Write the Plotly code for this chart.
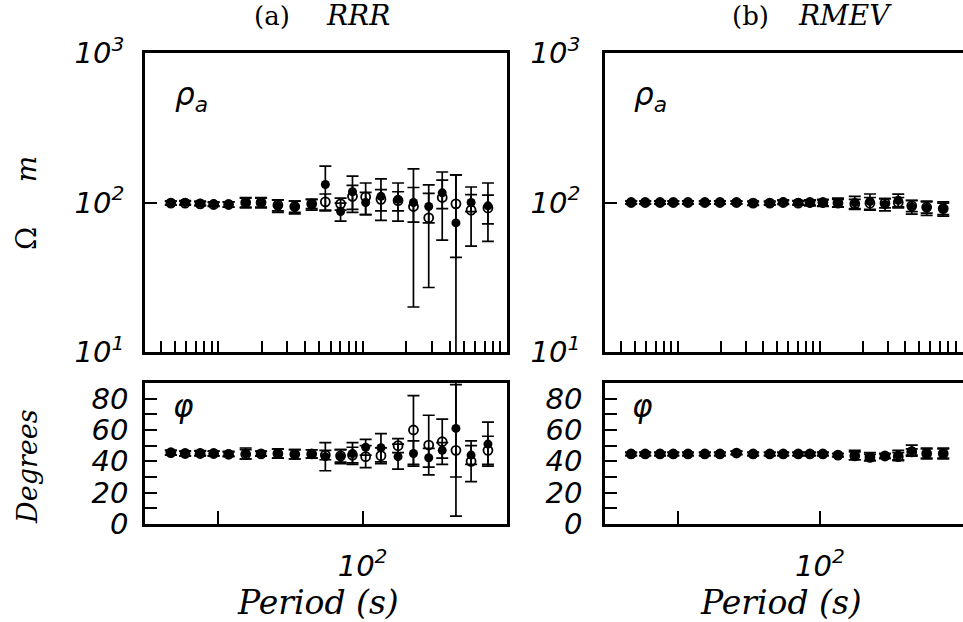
import plotly.graph_objects as go

W, H = 963, 622

# ---------------- data ----------------
PERIOD = [4.7, 5.9, 7.5, 9.3, 11.8, 15.5, 19.8, 25.9, 33.9, 44.4, 55.2,
          70.4, 85.1, 105, 134, 176, 225, 287, 356, 443, 564, 738]

# (a) RRR  apparent resistivity (ohm m)
RRR_RHO_FILLED = [99, 100, 99, 98, 97, 100, 100, 95, 93, 97, 132,
                  87, 118, 100, 110, 105, 100, 94, 116, 73, 100, 95]
RRR_RHO_FILLED_ERR = [3, 3, 3, 3, 4, 8, 8, 9, 9, 8, 43,
                      12, 32, 17, 34, 30, 26, 21, 25, 80, 13, 40]
RRR_RHO_OPEN = [99, 99, 98, 97, 97, 100, 100, 96, 94, 98, 101,
                98, 110, 109, 105, 103, 94, 79, 108, 98, 89, 92]
RRR_RHO_OPEN_ERR = [3, 3, 3, 3, 4, 7, 7, 8, 8, 7, 13,
                    9, 20, 26, 17, 15, 74, 52, 52, 55, 38, 20]

# (a) RRR  phase (degrees)
RRR_PHI_FILLED = [45.5, 45, 45.3, 45, 44.8, 45, 45, 45, 44.5, 44.7, 43,
                  43, 45, 49, 48.7, 43, 45, 42.3, 47, 61, 44, 51]
RRR_PHI_FILLED_ERR = [1.5, 1.5, 1.5, 1.5, 1.5, 3.5, 1.5, 3, 3, 2.7, 9,
                      4.5, 7, 5, 9, 8, 8, 6, 5, 31, 6, 14]
RRR_PHI_OPEN = [45.5, 45, 45, 45, 44.5, 44.5, 44.8, 45, 44.5, 44.7, 44,
                43.5, 44, 43, 43.6, 50, 60, 50.4, 52.5, 47, 40, 47]
RRR_PHI_OPEN_ERR = [1.5, 1.5, 1.5, 1.5, 1.5, 3, 1.5, 3, 3, 2.7, 3,
                    4, 5, 7, 5, 4.5, 22, 19, 14.5, 42, 13, 9]

# (b) RMEV apparent resistivity (ohm m)
RMEV_RHO_FILLED = [100, 100, 100, 100, 100, 100, 100, 100, 98.5, 99, 101,
                   100, 99, 99, 100, 100, 101.5, 97, 103.6, 93.5, 92, 91]
RMEV_RHO_FILLED_ERR = [2, 2, 2, 2, 2, 2, 2, 2, 3, 3, 3,
                       3, 4, 5, 7, 10, 12.5, 9, 10, 10, 10, 10]
RMEV_RHO_OPEN = [100, 100, 100, 100, 100, 100, 100, 100, 99, 99, 100,
                 99, 100, 100, 99, 98, 99, 99, 100, 95, 93, 91]
RMEV_RHO_OPEN_ERR = [2, 2, 2, 2, 2, 2, 2, 2, 3, 2, 3,
                     3, 4, 5, 6, 7, 9, 7, 8, 8, 8, 8]

# (b) RMEV phase (degrees)
RMEV_PHI_FILLED = [44.7, 44.7, 44.7, 44.7, 44.7, 44.7, 44.7, 45.5, 44.7, 44.7, 44.7,
                   44.7, 44.7, 44.7, 44, 44, 43, 43.4, 44, 46.8, 45, 45]
RMEV_PHI_FILLED_ERR = [1, 1, 1, 1, 1, 1, 1, 1, 1, 1, 1,
                       1, 1, 1, 1, 3, 2.5, 1.5, 3, 3.5, 3.5, 3.5]
RMEV_PHI_OPEN = [44.7, 44.7, 44.7, 44.7, 44.7, 44.7, 44.7, 45.3, 44.7, 44.7, 44.7,
                 44.7, 44.7, 44.7, 44, 43.5, 42.5, 43.4, 43, 46, 45, 45]
RMEV_PHI_OPEN_ERR = [1, 1, 1, 1, 1, 1, 1, 1, 1, 1, 1,
                     1, 1, 1, 1, 2.5, 2, 1.5, 2.5, 2, 3, 3]

RHO_TICKS = [10, 100, 1000]
RHO_TICKTEXT = ["10<sup>1</sup>", "10<sup>2</sup>", "10<sup>3</sup>"]
PHI_TICKS = [0, 20, 40, 60, 80]
PHI_TICKTEXT = ["0", "20", "40", "60", "80"]
PHI_MINOR_TICKS = [10, 30, 50, 70, 90]
PERIOD_MINOR_TICKS = [4, 5, 6, 7, 8, 9, 10, 20, 30, 40, 50, 60, 70, 80, 90,
                      100, 200, 300, 400, 500, 600, 700, 800, 900]
PERIOD_LABEL_TICKS = [100]
PERIOD_LABEL_TICKTEXT = ["10<sup>2</sup>"]
PERIOD_DECADE_TICKS = [10]

# ---------------- figure ----------------
def fx(p):
    return p / W


def fy(p):
    return 1 - p / H


fig = go.Figure()

panels = [
    ("x", "y", RRR_RHO_FILLED, RRR_RHO_FILLED_ERR, RRR_RHO_OPEN, RRR_RHO_OPEN_ERR),
    ("x2", "y2", RRR_PHI_FILLED, RRR_PHI_FILLED_ERR, RRR_PHI_OPEN, RRR_PHI_OPEN_ERR),
    ("x3", "y3", RMEV_RHO_FILLED, RMEV_RHO_FILLED_ERR, RMEV_RHO_OPEN, RMEV_RHO_OPEN_ERR),
    ("x4", "y4", RMEV_PHI_FILLED, RMEV_PHI_FILLED_ERR, RMEV_PHI_OPEN, RMEV_PHI_OPEN_ERR),
]

for xa, ya, yf, ef, yo, eo in panels:
    fig.add_trace(go.Scatter(
        x=PERIOD, y=yo, xaxis=xa, yaxis=ya, mode="markers",
        marker=dict(symbol="circle-open", size=9, color="black",
                    line=dict(width=1.8, color="black")),
        error_y=dict(type="data", array=eo, symmetric=True, color="black",
                     thickness=1.7, width=6),
        showlegend=False, hoverinfo="skip"))
    fig.add_trace(go.Scatter(
        x=PERIOD, y=yf, xaxis=xa, yaxis=ya, mode="markers",
        marker=dict(symbol="circle", size=9, color="black"),
        error_y=dict(type="data", array=ef, symmetric=True, color="black",
                     thickness=1.7, width=6),
        showlegend=False, hoverinfo="skip"))

tickfont = dict(family="DejaVu Sans", size=29, color="black", style="italic")

base = dict(showline=True, linecolor="black", linewidth=2.6, mirror=True,
            showgrid=False, zeroline=False, ticks="inside", tickcolor="black",
            tickwidth=1.5, automargin=False)

minor_base = dict(ticks="inside", tickcolor="black", tickwidth=1.5, showgrid=False)

LX = [fx(145), fx(507)]
RX = [fx(605), 1.0]
TOPY = [fy(352), fy(53)]
BOTY = [fy(524), fy(383)]


def xtop(domain, rng, anchor):
    return dict(base, type="log", domain=domain, range=rng, anchor=anchor,
                tickvals=[], showticklabels=False,
                minor=dict(minor_base, tickvals=PERIOD_MINOR_TICKS, ticklen=11))


def xbot(domain, rng, anchor):
    return dict(base, type="log", domain=domain, range=rng, anchor=anchor,
                tickvals=PERIOD_LABEL_TICKS, ticktext=PERIOD_LABEL_TICKTEXT,
                ticklen=13, tickfont=tickfont, ticklabelstandoff=14,
                minor=dict(minor_base, tickvals=PERIOD_DECADE_TICKS, ticklen=13))


def yrho(domain, anchor, standoff):
    return dict(base, type="log", domain=domain, range=[1, 3], anchor=anchor,
                tickvals=RHO_TICKS, ticktext=RHO_TICKTEXT, ticklen=12,
                tickfont=tickfont, ticklabelstandoff=standoff)


def yphi(domain, anchor, standoff):
    return dict(base, domain=domain, range=[0, 90], anchor=anchor,
                tickvals=PHI_TICKS, ticktext=PHI_TICKTEXT, ticklen=12,
                tickfont=tickfont, ticklabelstandoff=standoff,
                minor=dict(minor_base, tickvals=PHI_MINOR_TICKS, ticklen=12))


fig.update_layout(
    width=W, height=H, margin=dict(l=0, r=0, t=0, b=0, pad=0, autoexpand=False),
    paper_bgcolor="white", plot_bgcolor="white", showlegend=False,
    xaxis=xtop(LX, [0.493, 3.0], "y"),
    yaxis=yrho(TOPY, "x", 12),
    xaxis2=xbot(LX, [0.493, 3.0], "y2"),
    yaxis2=yphi(BOTY, "x2", 8),
    xaxis3=xtop(RX, [0.488, 3.007], "y3"),
    yaxis3=yrho(TOPY, "x3", 16),
    xaxis4=xbot(RX, [0.488, 3.007], "y4"),
    yaxis4=yphi(BOTY, "x4", 14),
)

serif_it = dict(family="DejaVu Serif", color="black", style="italic")
serif_up = dict(family="DejaVu Serif", color="black")


def ann(text, x, y, font, angle=0):
    fig.add_annotation(text=text, x=fx(x), y=fy(y), xref="paper", yref="paper",
                       showarrow=False, xanchor="center", yanchor="middle",
                       font=font, textangle=angle)


ann("(a)", 272, 16, dict(serif_up, size=26))
ann("RRR", 358, 16, dict(serif_it, size=28))
ann("(b)", 750, 16, dict(serif_up, size=26))
ann("RMEV", 845, 16, dict(serif_it, size=28))

sym_font = dict(family="DejaVu Sans", size=31, color="black", style="italic")
ann("ρ<sub>a</sub>", 191, 96, sym_font)
ann("ρ<sub>a</sub>", 650, 96, sym_font)
ann("φ", 183, 406, sym_font)
ann("φ", 642, 406, sym_font)

ann("Ω" + "&#160;" * 5 + "<i>m</i>", 27, 203,
    dict(family="DejaVu Serif", size=28, color="black"), angle=-90)
ann("Degrees", 27, 467, dict(serif_it, size=27), angle=-90)

ann("Period (s)", 318, 602, dict(serif_it, size=33))
ann("Period (s)", 781, 602, dict(serif_it, size=33))

fig.write_html("out.html")
